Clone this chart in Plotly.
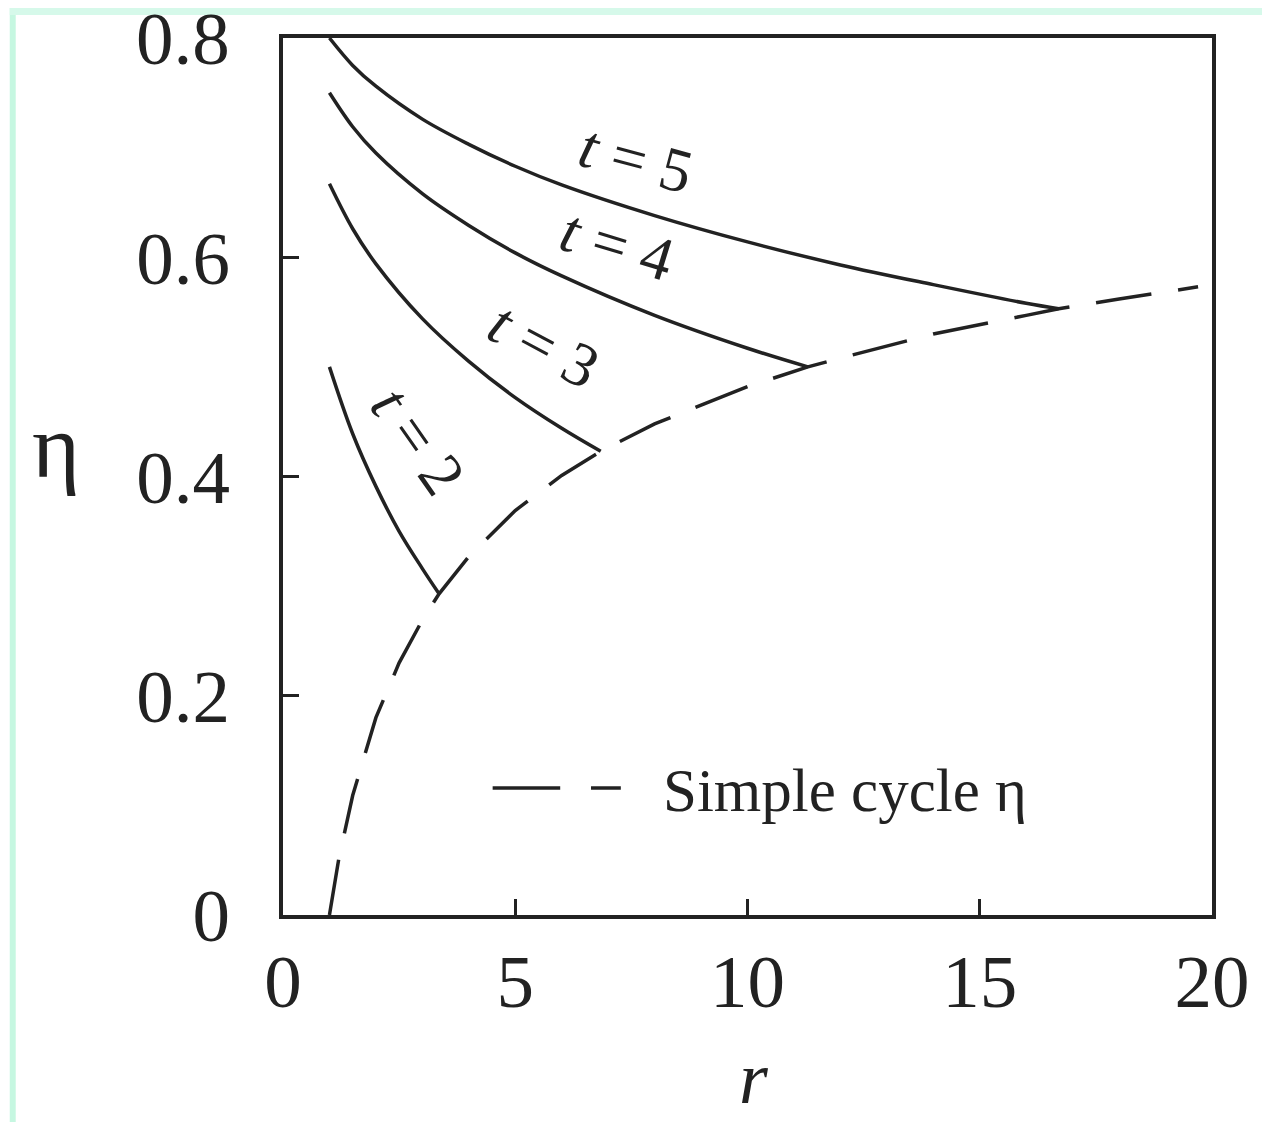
import plotly.graph_objects as go

# ---- data ----
r_simple = [1.0, 1.2, 1.5, 2.0, 2.5, 3.0, 3.36, 4.0, 5.0, 6.0, 6.84, 8.0, 10.0, 11.3, 12.0, 14.0, 16.0, 16.7, 18.0, 19.7]
eta_simple = [0.0, 0.051, 0.109, 0.180, 0.230, 0.269, 0.293, 0.327, 0.369, 0.401, 0.423, 0.448, 0.482, 0.500, 0.508, 0.530, 0.547, 0.553, 0.562, 0.573]

r_t5 = [1.0, 1.5, 2.0, 3.0, 4.0, 5.0, 6.0, 8.0, 10.0, 12.0, 14.0, 16.0, 16.7]
eta_t5 = [0.800, 0.775, 0.756, 0.726, 0.703, 0.683, 0.666, 0.638, 0.614, 0.593, 0.575, 0.558, 0.553]

r_t4 = [1.0, 1.5, 2.0, 3.0, 4.0, 5.0, 6.0, 8.0, 10.0, 11.3]
eta_t4 = [0.750, 0.719, 0.695, 0.658, 0.629, 0.604, 0.583, 0.547, 0.517, 0.500]

r_t3 = [1.0, 1.5, 2.0, 3.0, 4.0, 5.0, 6.0, 6.84]
eta_t3 = [0.667, 0.626, 0.594, 0.544, 0.505, 0.472, 0.444, 0.423]

r_t2 = [1.0, 1.5, 2.0, 2.5, 3.0, 3.36]
eta_t2 = [0.500, 0.439, 0.391, 0.350, 0.316, 0.293]

curve_labels = ["<i>t</i> = 5", "<i>t</i> = 4", "<i>t</i> = 3", "<i>t</i> = 2"]
label_r = [7.60, 7.20, 5.62, 2.90]
label_eta = [0.690, 0.611, 0.520, 0.433]
label_angle = [15, 17, 28, 55]

x_ticks = [0, 5, 10, 15, 20]
x_ticktext = ["0", "5", "10", "15", "20"]
y_ticks = [0, 0.2, 0.4, 0.6, 0.8]
y_ticktext = ["0", "0.2", "0.4", "0.6", "0.8"]

legend_text = "Simple cycle η"
x_title = "<i>r</i>"
y_title = "η"

# ---- layout geometry (pixels, reference-screen coordinates) ----
OFF = 8                      # page body margin
W, H = 1270 - 2 * OFF, 1130 - 2 * OFF
L, R, T, B = 283, 1218, 38, 915
PW, PH = R - L, B - T

def px(x):
    return (x - L) / PW

def py(y):
    return (B - y) / PH

INK = "#222222"
FONT = "Liberation Serif, Times New Roman, serif"
TICK_SIZE = 75

fig = go.Figure()

fig.add_trace(go.Scatter(x=r_simple, y=eta_simple, mode="lines",
                         line=dict(color=INK, width=3.5, dash="56px,27px"),
                         showlegend=False, hoverinfo="skip"))
for rr, ee in [(r_t5, eta_t5), (r_t4, eta_t4), (r_t3, eta_t3), (r_t2, eta_t2)]:
    fig.add_trace(go.Scatter(x=rr, y=ee, mode="lines",
                             line=dict(color=INK, width=3.5, shape="spline"),
                             showlegend=False, hoverinfo="skip"))

for txt, xr, ye, ang in zip(curve_labels, label_r, label_eta, label_angle):
    fig.add_annotation(x=xr, y=ye, xref="x", yref="y", text=txt, showarrow=False,
                       textangle=ang, font=dict(family=FONT, size=62, color=INK))

# legend sample
fig.add_shape(type="line", xref="paper", yref="paper",
              x0=px(494), x1=px(562), y0=py(788), y1=py(788),
              line=dict(color=INK, width=3.5))
fig.add_shape(type="line", xref="paper", yref="paper",
              x0=px(593), x1=px(623), y0=py(788), y1=py(788),
              line=dict(color=INK, width=3.5))
fig.add_annotation(x=px(663), y=py(790), xref="paper", yref="paper",
                   xanchor="left", yanchor="middle", text=legend_text, showarrow=False,
                   font=dict(family=FONT, size=61, color=INK))

# axis titles
fig.add_annotation(x=px(55), y=py(446), xref="paper", yref="paper", text=y_title,
                   showarrow=False, xanchor="center", yanchor="middle",
                   font=dict(family=FONT, size=92, color=INK))
fig.add_annotation(x=px(757), y=py(1121), xref="paper", yref="paper", text=x_title,
                   showarrow=False, xanchor="center", yanchor="bottom",
                   font=dict(family=FONT, size=74, color=INK))

# top y tick label sits at the very top edge of the page; draw it as text at the tick value
fig.add_annotation(x=px(232), y=y_ticks[-1], xref="paper", yref="y", text=y_ticktext[-1],
                   showarrow=False, xanchor="right", yanchor="middle",
                   font=dict(family=FONT, size=TICK_SIZE, color=INK))

# mint borders of the original scan
fig.add_shape(type="rect", xref="paper", yref="paper", layer="above",
              x0=px(OFF), x1=px(OFF + 6), y0=py(1130), y1=py(OFF),
              fillcolor="rgb(198,247,225)", line=dict(width=0))
fig.add_shape(type="rect", xref="paper", yref="paper", layer="above",
              x0=px(OFF), x1=px(1270), y0=py(OFF + 7), y1=py(OFF),
              fillcolor="rgb(214,249,234)", line=dict(width=0))

axis_common = dict(showline=True, mirror=True, linecolor=INK, linewidth=4,
                   ticks="inside", tickcolor=INK, tickwidth=3, ticklen=16,
                   showgrid=False, zeroline=False,
                   tickfont=dict(family=FONT, size=TICK_SIZE, color=INK))

fig.update_xaxes(range=[0, 20], tickvals=x_ticks, ticktext=x_ticktext,
                 ticklabelstandoff=-2, **axis_common)
fig.update_yaxes(range=[0, 0.8], tickvals=y_ticks, ticktext=y_ticktext[:-1] + [""],
                 ticklabelstandoff=34, **axis_common)

fig.update_layout(width=W, height=H,
                  margin=dict(l=L - OFF, r=W - (R - OFF), t=T - OFF, b=H - (B - OFF), pad=0),
                  paper_bgcolor="white", plot_bgcolor="white",
                  showlegend=False)

fig.write_html("out.html")
